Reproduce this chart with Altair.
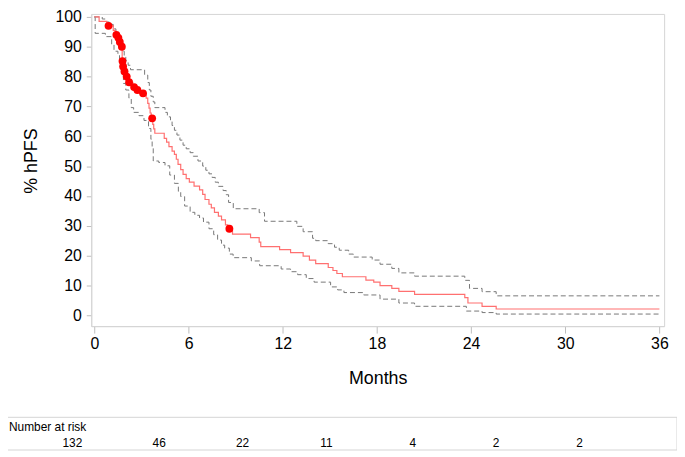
import altair as alt
import pandas as pd

# Kaplan-Meier estimate (% hPFS) — step points (time in months, survival %)
km_t = [0, 0.3, 0.8, 1.2, 1.35, 1.5, 1.58, 1.68, 1.77, 1.81, 1.88, 2.0, 2.15, 2.45, 2.68, 2.9,
        3.3, 3.4, 3.48, 3.55, 3.62, 3.72, 3.78, 3.85, 4.45, 4.6, 4.75, 4.95, 5.1, 5.22, 5.33,
        5.5, 5.65, 5.85, 6.05, 6.35, 6.7, 6.9, 7.05, 7.3, 7.45, 7.65, 7.9, 8.1, 8.35, 8.5,
        8.8, 9.95, 10.5, 10.6, 11.8, 12.5, 13.3, 13.7, 14.1, 14.9, 15.2, 15.45, 15.8, 17.3,
        17.8, 18.2, 18.95, 19.4, 20.4, 23.6, 23.8, 24.7, 25.6, 36.0]
km_s = [100, 98.5, 97.0, 95.5, 94.0, 93.0, 91.6, 90.0, 85.2, 83.4, 81.7, 80.0, 78.1, 76.5, 75.5, 74.4,
        72.8, 71.0, 69.4, 67.8, 66.0, 64.0, 62.5, 61.0, 59.3, 58.0, 56.5, 55.0, 53.9, 52.3, 50.6,
        48.8, 47.2, 45.8, 44.6, 43.3, 42.0, 40.5, 38.8, 37.2, 36.0, 34.5, 33.2, 32.0, 30.3, 29.0,
        27.2, 26.0, 24.5, 23.0, 22.0, 21.0, 19.8, 18.5, 17.3, 16.0, 15.0, 14.0, 12.9, 11.8,
        11.1, 9.9, 9.0, 8.0, 7.0, 5.9, 4.1, 3.0, 2.1, 2.1]

# Censored observations
cens_t = [0.9, 1.4, 1.53, 1.62, 1.75, 1.79, 1.83, 1.92, 2.06, 2.21, 2.53, 2.74, 3.1, 3.68, 8.6]
cens_s = [97.0, 94.0, 93.0, 91.6, 90.0, 85.2, 83.4, 81.7, 80.0, 78.1, 76.5, 75.5, 74.4, 66.0, 29.0]

# Upper confidence limit
up_t = [0, 0.5, 0.75, 0.95, 1.2, 1.37, 1.5, 1.6, 1.7, 1.79, 1.9, 2.0, 2.15, 2.3, 3.2, 3.4, 3.5,
        3.6, 3.75, 3.85, 4.5, 4.65, 4.85, 4.95, 5.1, 5.26, 5.45, 5.65, 5.85, 6.1, 6.3, 6.6, 6.9,
        7.1, 7.3, 7.5, 7.7, 7.9, 8.2, 8.4, 8.55, 8.85, 10.5, 10.84, 12.9, 13.3, 13.9, 14.1,
        14.9, 15.3, 15.6, 16.2, 16.5, 17.7, 18.2, 18.95, 19.4, 20.4, 23.6, 23.9, 24.7, 25.6, 36.0]
up_s = [100, 99.3, 98.3, 97.5, 96.0, 95.0, 93.5, 92.2, 90.0, 88.5, 86.8, 85.3, 83.8, 82.3, 80.5,
        78.0, 75.5, 73.4, 71.5, 69.6, 68.0, 66.5, 65.0, 63.6, 62.0, 60.4, 58.7, 57.0, 55.8, 54.5,
        53.3, 51.7, 50.0, 48.6, 47.4, 46.2, 44.6, 43.2, 41.8, 40.4, 37.8, 35.7, 34.4, 31.5, 29.8,
        28.0, 25.8, 25.0, 24.0, 22.8, 21.8, 20.5, 19.5, 18.5, 17.1, 15.7, 14.2, 13.1, 11.7, 9.0,
        7.9, 6.5, 6.5]

# Lower confidence limit
lo_t = [0, 0.05, 0.7, 1.1, 1.25, 1.5, 1.6, 1.72, 1.85, 2.0, 2.2, 2.35, 2.5, 2.84, 3.16, 3.45,
        3.6, 3.68, 3.75, 4.1, 4.5, 4.8, 5.1, 5.35, 5.5, 5.75, 6.1, 6.4, 6.7, 6.95, 7.3, 7.6,
        7.85, 8.1, 8.3, 8.6, 8.84, 10.0, 10.53, 11.9, 12.5, 12.95, 13.5, 14.0, 15.05, 15.5,
        15.9, 17.16, 18.2, 19.4, 20.4, 23.7, 24.7, 25.6, 36.0]
lo_s = [100, 94.5, 93.4, 90.7, 88.5, 87.4, 84.5, 81.0, 77.7, 75.5, 72.8, 69.6, 68.0, 66.9, 65.3,
        62.6, 59.0, 56.1, 51.7, 51.2, 50.1, 47.0, 44.2, 41.5, 39.8, 36.6, 34.5, 33.5, 32.6, 31.2,
        29.0, 27.0, 25.2, 23.5, 22.5, 20.5, 19.3, 18.2, 16.6, 15.5, 14.6, 13.6, 12.3, 11.1, 9.5,
        8.5, 7.6, 6.8, 5.4, 4.1, 3.0, 1.4, 0.9, 0.4, 0.4]

# Number at risk
risk_t = [0, 6, 12, 18, 24, 30, 36]
risk_n = [132, 46, 22, 11, 4, 2, 2]
x_ticks = [0, 6, 12, 18, 24, 30, 36]
y_ticks = [0, 10, 20, 30, 40, 50, 60, 70, 80, 90, 100]

FONT = "Liberation Sans"
W, H = 578, 315

xscale = alt.Scale(domain=[-0.2, 36.3], nice=False, zero=False)
yscale = alt.Scale(domain=[-3.65, 101.0], nice=False, zero=False)

xaxis = alt.Axis(values=x_ticks, title="Months", grid=False, tickSize=7, labelPadding=3,
                 labelFontSize=16, titleFontSize=18, titleFontWeight="normal",
                 titleX=W / 2, titleY=53, titleBaseline="middle", labelFlush=False)
yaxis = alt.Axis(values=y_ticks, title="% hPFS", grid=False, tickSize=5, labelPadding=5,
                 labelFontSize=16, titleFontSize=18, titleFontWeight="normal",
                 titleX=-60, titleY=148, titleBaseline="middle", titleAngle=270)

X = alt.X("t:Q", scale=xscale, axis=xaxis)
Y = alt.Y("s:Q", scale=yscale, axis=yaxis)

km_df = pd.DataFrame({"t": km_t, "s": km_s})
up_df = pd.DataFrame({"t": up_t, "s": up_s})
lo_df = pd.DataFrame({"t": lo_t, "s": lo_s})
cens_df = pd.DataFrame({"t": cens_t, "s": cens_s})
risk_df = pd.DataFrame({"t": risk_t, "n": risk_n})

upper = alt.Chart(up_df).mark_line(interpolate="step-after", color="#777777", strokeWidth=1,
                                   strokeDash=[5, 3]).encode(x=X, y=Y)
lower = alt.Chart(lo_df).mark_line(interpolate="step-after", color="#777777", strokeWidth=1,
                                   strokeDash=[5, 3]).encode(x=X, y=Y)
km = alt.Chart(km_df).mark_line(interpolate="step-after", color="#ff7070",
                                strokeWidth=1.2).encode(x=X, y=Y)
cens = alt.Chart(cens_df).mark_circle(color="#ff0000", opacity=1, size=62).encode(x=X, y=Y)

plot = alt.layer(upper, lower, km, cens)

box = alt.Chart(pd.DataFrame({"a": [0]})).mark_rect(
    fill="white", fillOpacity=0, stroke="#d4d4d4", strokeWidth=1).encode(
    x=alt.value(-90), x2=alt.value(591), y=alt.value(407), y2=alt.value(440))

risk_label = alt.Chart(pd.DataFrame({"lab": ["Number at risk"]})).mark_text(
    align="left", baseline="middle", fontSize=12, font=FONT, color="#000000").encode(
    x=alt.value(-83), y=alt.value(417), text="lab:N")

# the risk table uses its own evenly spaced columns (not aligned to the time axis)
risk_text = alt.Chart(risk_df).mark_text(
    align="right", baseline="middle", fontSize=12, font=FONT, color="#000000").encode(
    x=alt.X("t:Q", scale=alt.Scale(domain=[0, 36], range=[-9, 496], nice=False, zero=False),
            axis=None),
    y=alt.value(433), text="n:Q")

chart = alt.layer(plot, box, risk_label, risk_text).resolve_scale(
    x="independent"
).properties(
    width=W, height=H,
    autosize=alt.AutoSizeParams(type="none"),
    padding={"left": 84, "top": 4, "right": 13, "bottom": 125},
).configure_view(
    stroke="#d4d4d4", strokeWidth=1
).configure_axis(
    domainColor="#d4d4d4", tickColor="#bdbdbd", labelColor="#000000", titleColor="#000000",
    labelFont=FONT, titleFont=FONT
)

chart.save("out.html", embed_options={"renderer": "svg", "actions": False})
